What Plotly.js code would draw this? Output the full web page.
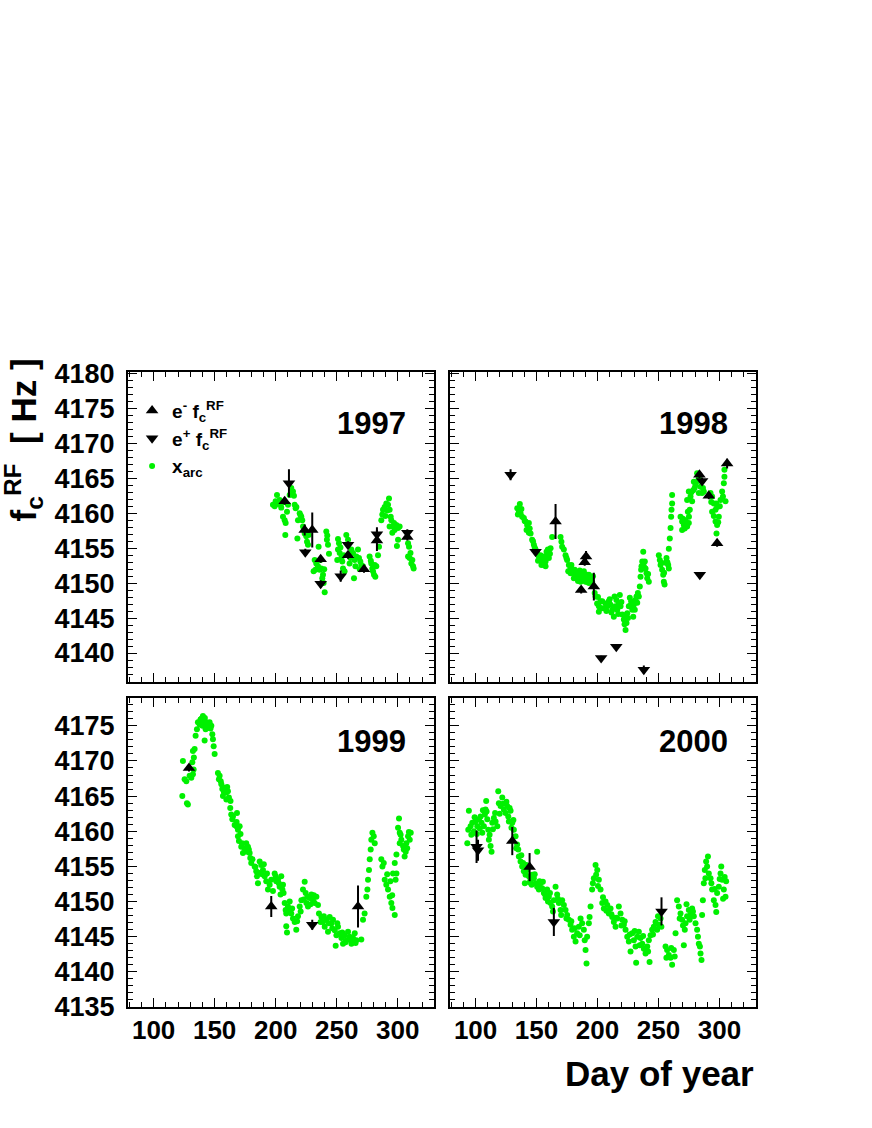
<!DOCTYPE html>
<html>
<head>
<meta charset="utf-8">
<script src="https://cdn.plot.ly/plotly-3.0.1.min.js"></script>
<style>
html,body{margin:0;padding:0;background:#fff;}
#chart{width:872px;height:1128px;}
</style>
</head>
<body>
<div id="chart"></div>
<script>
// ---------------- DATA ----------------
const years = ["1997", "1998", "1999", "2000"];
const xTicks = [100, 150, 200, 250, 300];
const yTicksTop = [4140, 4145, 4150, 4155, 4160, 4165, 4170, 4175, 4180];
const yTicksBottom = [4135, 4140, 4145, 4150, 4155, 4160, 4165, 4170, 4175];

// x_arc points [day, Hz]
const arc1997 = [
[197.8,4161.2],[199.2,4161.0],[200,4161.7],[201.1,4162.6],[203.3,4161.9],[204.6,4160.8],[206,4159.5],[207.4,4159.0],
[208.2,4158.6],[207.9,4156.9],[209.3,4160.2],[210.1,4161.2],[212.8,4163.6],[214.2,4163.1],[215.6,4161.2],[216.4,4160.7],
[217,4160.9],[217.8,4156.4],[218.3,4159.0],[219.7,4160.0],[221,4159.5],[221.8,4159.0],[222.4,4158.1],[223.8,4157.1],
[225.1,4156.7],[225.7,4155.9],[226.5,4155.5],[231.1,4151.7],[232,4153.3],[233.3,4152.8],[234.7,4152.4],[235.2,4155.2],
[236.1,4151.9],[237.4,4152.1],[238.2,4150.7],[238.8,4151.2],[239.3,4150.0],[240.2,4148.7],[241.5,4157.4],[242,4156.2],
[242.3,4156.8],[242.9,4155.5],[243.7,4154.2],[250.5,4153.3],[251.1,4156.3],[251.1,4154.8],[251.9,4155.7],[252.5,4154.3],
[253.8,4153.6],[254.6,4153.1],[255.2,4152.1],[256.5,4151.7],[257.9,4156.9],[259.3,4156.2],[260.6,4152.8],[262,4154.8],
[263.4,4154.3],[264.2,4150.7],[264.7,4153.3],[266.1,4153.8],[267.5,4154.8],[268.3,4153.6],[269.4,4153.1],[270.2,4152.6],
[271.6,4152.4],[277,4153.8],[278.4,4152.8],[279.2,4152.1],[279.8,4151.7],[280.6,4151.2],[281.7,4150.9],[282.5,4152.4],
[283.9,4154.0],[284.7,4155.2],[286.6,4159.0],[287.4,4159.8],[288,4160.5],[289.3,4160.9],[290.7,4161.4],[292.1,4161.2],
[292.9,4162.1],[293.4,4160.5],[293.4,4158.1],[294.3,4159.5],[294.8,4159.0],[296.2,4158.1],[297.5,4157.6],[298.9,4158.3],
[299.4,4155.3],[300.3,4157.9],[300.3,4156.2],[301.6,4158.1],[308.5,4155.7],[309.3,4155.2],[308.5,4153.8],[309.8,4153.6],
[311.2,4152.8],[312,4153.3],[312.6,4152.4],[313.1,4152.1],
[202,4161.3],[205.3,4161.5],[211.5,4162.6],[215,4162.5],[220.4,4159.7],[227,4156.9],[232.6,4151.9],[236.7,4153.3],
[239.8,4152.0],[253.1,4155.1],[255.8,4154.0],[261.3,4153.6],[265.4,4152.4],[268.9,4152.0],[278,4153.2],[281.2,4152.6],
[289.9,4159.6],[291.5,4160.4],[295.6,4157.2],[297,4158.6],[310.5,4154.3]
];
const arc1998 = [
[134.2,4160.7],[134.7,4159.8],[135.5,4160.2],[136.3,4161.3],[136.9,4160.0],[138.2,4159.5],[139.6,4159.3],[141,4158.8],
[141.8,4157.6],[142.3,4158.3],[143.7,4158.6],[143.7,4157.2],[145.1,4157.1],[146.4,4156.2],[147.8,4155.5],[149.2,4154.8],
[150.5,4154.3],[151.9,4153.8],[153.3,4154.0],[153.3,4153.3],[154.6,4153.3],[156,4152.6],[156,4153.8],[157.4,4153.1],
[157.4,4152.4],[158.2,4154.5],[158.7,4153.8],[159.3,4154.8],[160.1,4154.3],[160.1,4153.6],[161.5,4155.0],[162.8,4156.6],
[169.7,4156.6],[171,4155.2],[172.4,4154.8],[173.8,4154.0],[175.1,4153.3],[176.5,4152.6],[177.9,4152.1],[177.9,4151.4],
[179.2,4151.9],[180.6,4151.4],[180.6,4150.7],[182,4151.2],[183.3,4150.7],[183.3,4151.4],[184.7,4151.4],[186.1,4150.9],
[186.1,4150.2],[187.4,4150.5],[188.8,4151.7],[190.2,4150.9],[190.2,4150.2],[191.5,4150.2],[191.5,4151.2],[192.9,4151.2],
[192.9,4150.0],[194.3,4150.7],[195.6,4150.2],[198.4,4148.1],[199.7,4147.1],[201.1,4146.7],[201.1,4145.9],[202.5,4147.4],
[202.5,4146.4],[203.9,4147.4],[206.6,4147.1],[208,4146.7],[209.3,4147.4],[210.7,4146.9],[212.1,4146.2],[213.4,4145.2],
[214,4148.1],[214.8,4146.7],[216.2,4146.2],[217.5,4147.1],[218.3,4148.3],[218.9,4146.7],[220.3,4145.5],[221.6,4144.8],
[222.2,4144.1],[223,4143.3],[223.8,4144.3],[224.4,4145.7],[225.7,4146.7],[226.5,4147.9],[227.6,4147.4],[228.5,4146.2],
[229.3,4145.2],[229.8,4146.9],[231.2,4147.6],[232,4148.1],[233.1,4148.6],[233.9,4148.1],[234.7,4149.5],[235.3,4150.9],
[235.8,4151.9],[236.7,4153.1],[237.5,4154.5],[238,4152.4],[239.4,4152.1],[240.2,4151.4],[240.8,4150.7],[242.1,4150.2],
[250.3,4154.0],[251.1,4153.3],[251.7,4152.6],[253,4151.9],[253.9,4151.2],[254.4,4150.2],[255,4149.8],[255.8,4152.9],
[256.6,4153.6],[258,4152.6],[258.5,4152.1],[258.5,4154.9],[259.3,4156.4],[259.9,4157.9],[260.4,4159.5],[260.7,4160.5],
[261.2,4161.4],[261.2,4162.6],[268.1,4159.5],[269.4,4158.8],[269.4,4157.6],[270.8,4158.3],[272.2,4159.0],[273.5,4158.1],
[273.5,4161.9],[274.1,4160.2],[274.9,4158.6],[274.9,4163.1],[275.7,4160.5],[276.3,4162.4],[277.6,4161.7],[278.5,4163.3],
[279,4164.5],[280.4,4164.0],[281.7,4165.7],[283.1,4165.0],[283.1,4162.9],[284.5,4163.8],[285.8,4162.9],[287.2,4163.1],
[292.7,4162.9],[294,4162.4],[294,4160.2],[295.4,4161.4],[296.8,4160.5],[296.8,4158.8],[297.6,4157.1],[298.1,4160.9],
[298.1,4158.3],[299.5,4159.5],[300.9,4161.9],[302.2,4163.1],[303.6,4164.3],[304.1,4165.2],[304.1,4166.2],[305,4161.7],
[137.6,4160.6],[140.3,4158.9],[144.4,4157.8],[147.1,4156.0],[148.5,4155.1],[151.2,4153.2],[154,4152.6],[155.3,4153.6],
[161,4154.2],[170.4,4155.9],[174.5,4153.6],[176,4151.7],[178.6,4152.6],[181.3,4151.9],[184,4150.3],[185.4,4151.8],
[187.9,4151.3],[189.5,4150.5],[193.6,4150.4],[196.3,4151.0],[197.7,4148.6],[200.4,4148.0],[204.6,4146.4],[207.3,4146.0],
[210,4147.7],[211.4,4145.8],[215.5,4147.6],[217,4145.6],[219.6,4147.3],[222.8,4145.4],[225,4145.0],[227,4146.8],
[230.6,4146.2],[232.6,4147.2],[236.1,4152.4],[238.8,4153.1],[241.5,4151.3],[252.3,4152.9],[254.6,4151.5],[257.3,4153.0],
[270.1,4159.2],[271.5,4157.8],[275,4159.5],[277,4163.0],[279.7,4163.6],[282.4,4164.6],[286.5,4163.6],[293.3,4161.6],
[295.4,4159.6],[297.4,4161.4],[299,4158.7],[300.3,4161.0],[302.9,4162.4]
];
const arc1999 = [
[123.5,4165.0],[124,4170.0],[125.4,4167.4],[126.8,4167.1],[127.3,4164.0],[128.1,4163.8],[129.5,4167.9],[130.9,4167.6],
[131.7,4169.8],[132.2,4168.1],[132.2,4171.4],[132.8,4168.8],[133.6,4171.7],[134.4,4173.6],[135.5,4174.5],[136.3,4175.5],
[137.7,4175.2],[139.1,4176.0],[140.4,4176.4],[141,4175.7],[141.8,4175.0],[141.8,4172.9],[142.6,4174.5],[143.2,4175.5],
[144.5,4175.2],[145.9,4175.5],[147.3,4175.0],[148.1,4173.8],[148.6,4173.1],[149.2,4172.1],[150,4171.0],[152.7,4168.3],
[153.5,4167.4],[154.1,4167.9],[155.5,4166.7],[156.3,4166.0],[156.8,4165.0],[158.2,4166.2],[159.6,4165.5],[159.6,4164.5],
[160.9,4165.7],[161.7,4164.8],[162.8,4163.3],[163.6,4162.4],[164.5,4161.7],[166.4,4160.9],[167.8,4160.7],[168.3,4162.6],
[169.1,4160.2],[169.1,4159.3],[169.9,4158.6],[170.5,4160.7],[171.8,4157.8],[173.2,4156.9],[174.6,4157.6],[175.9,4158.3],
[177.3,4157.8],[178.7,4156.9],[179.2,4156.2],[180,4155.5],[182.8,4155.0],[184.1,4154.3],[184.7,4153.6],[185.5,4152.6],
[186.9,4155.7],[188.2,4155.2],[189.6,4154.5],[191,4153.6],[192.3,4152.9],[193.7,4151.7],[195.1,4152.4],[196.4,4153.1],
[199.2,4154.0],[200.5,4152.9],[201.9,4153.1],[203.3,4152.1],[204.6,4153.6],[205.5,4151.7],[206.5,4151.2],[207.4,4149.8],
[208.2,4148.8],[208.7,4148.3],[208.7,4146.5],[209.3,4145.6],[210.1,4149.3],[211.5,4150.0],[212.8,4148.3],[214.2,4147.6],
[215.6,4147.1],[216.9,4146.0],[218.3,4147.9],[219.7,4149.3],[221.1,4150.2],[222.4,4151.7],[223.8,4152.8],[224.6,4151.2],
[225.2,4149.8],[226.5,4149.3],[227.9,4150.5],[229.3,4151.0],[230.6,4150.2],[232,4149.8],[233.4,4150.7],[234.7,4149.5],
[235.5,4148.3],[237.5,4147.8],[238.8,4147.1],[240.2,4146.4],[241.6,4147.4],[242.9,4145.7],[244.3,4147.8],[245.7,4146.9],
[247,4147.4],[248.4,4145.9],[249.2,4143.7],[249.8,4145.2],[251.1,4146.4],[252.5,4145.5],[253.9,4144.8],[255.2,4144.0],
[256.6,4145.2],[258,4144.5],[259.3,4145.7],[260.7,4145.0],[262.1,4144.0],[263.4,4144.8],[264.8,4145.5],[266.1,4144.5],
[270.2,4144.6],[271.6,4147.4],[272.9,4148.3],[274.3,4150.7],[275.2,4151.7],[275.7,4153.1],[276.5,4154.5],[277.1,4156.0],
[277.9,4157.4],[278.4,4158.8],[279.3,4159.8],[280.4,4159.3],[281.2,4158.3],[286.6,4156.0],[287.5,4155.0],[288.6,4155.5],
[289.4,4153.1],[290.7,4152.4],[292.1,4151.7],[293.5,4150.7],[294,4152.9],[294.8,4149.8],[295.7,4149.1],[296.2,4154.0],
[297.6,4148.1],[297.6,4155.5],[299,4156.7],[299,4154.0],[300.3,4160.5],[301.1,4161.8],[301.7,4159.8],[301.7,4158.3],
[303,4158.8],[304.4,4157.9],[305.7,4156.4],[306.6,4157.1],[307.1,4158.3],[308.5,4159.3],[309.9,4158.8],[310.7,4159.8],
[133,4170.5],[138.4,4175.9],[140,4175.0],[142,4176.1],[144,4174.7],[146.6,4174.6],[155,4167.1],[157.6,4165.6],
[160.3,4166.3],[163,4164.3],[165,4162.1],[168,4161.3],[171.2,4159.6],[172.5,4158.3],[176.6,4157.1],[178,4157.4],
[181,4156.0],[183.4,4154.9],[186,4154.1],[188.9,4153.9],[190.3,4155.3],[192.9,4154.0],[197.8,4151.5],[200,4153.6],
[202.6,4152.6],[204,4151.0],[206,4152.4],[211,4148.7],[213.5,4149.0],[217.6,4147.2],[220.5,4148.6],[223,4150.3],
[226,4150.7],[228.6,4149.6],[231.3,4150.9],[236.8,4147.1],[239.5,4147.9],[243.6,4146.9],[246.4,4146.2],[250.5,4146.9],
[254.6,4145.6],[257.3,4144.2],[261.4,4144.6],[265.5,4144.1],[298.3,4153.1],[291.4,4153.9],[295.5,4150.9],[302.4,4159.5],
[305,4157.4],[307.8,4157.6],[309.2,4159.9]
];
const arc2000 = [
[93.2,4158.3],[94,4160.2],[94.5,4162.9],[95.9,4160.7],[97.3,4161.2],[98.6,4160.0],[100,4161.4],[101.4,4160.7],
[102.7,4161.7],[104.1,4162.1],[104.9,4161.2],[105.5,4159.8],[106.8,4160.7],[107.6,4162.4],[108.2,4163.1],[108.7,4164.3],
[109.6,4161.7],[110.4,4160.2],[110.9,4158.8],[112.3,4157.9],[113.1,4157.1],[113.7,4161.2],[115,4161.9],[116.4,4161.4],
[117.8,4160.7],[118.6,4165.7],[119.1,4164.0],[120.5,4163.6],[121.9,4164.8],[123.2,4163.1],[124.6,4162.6],[126,4163.6],
[126.8,4162.1],[127.3,4161.4],[128.7,4162.9],[130.1,4161.2],[131.4,4160.2],[132.8,4159.3],[134.1,4158.1],[135,4157.4],
[135.5,4156.4],[136.9,4155.7],[138.2,4155.0],[139.6,4154.3],[140.4,4152.6],[141,4153.8],[142.3,4154.5],[143.7,4153.6],
[145.1,4153.1],[146.4,4153.8],[147.8,4153.3],[149.2,4152.6],[150.5,4157.1],[150.5,4152.1],[151.9,4151.7],[153.3,4152.6],
[154.6,4151.9],[156,4151.2],[157.4,4150.5],[158.7,4151.7],[160.1,4150.7],[161.5,4149.8],[162.8,4149.3],[164.2,4150.2],
[165.6,4152.1],[166.9,4151.0],[168.3,4149.8],[169.7,4148.8],[171,4150.2],[172.4,4149.5],[173.8,4148.8],[175.1,4148.1],
[176.5,4147.4],[177.9,4146.7],[179.2,4146.0],[180.6,4145.0],[182,4144.3],[183.3,4145.5],[184.7,4146.4],[186.1,4147.6],
[187.4,4146.9],[188.8,4146.0],[190.2,4143.1],[191,4141.2],[191.5,4145.0],[192.9,4146.9],[194.3,4149.3],[195.6,4151.7],
[197,4153.3],[198.4,4155.2],[199.8,4154.5],[201.1,4153.1],[202.5,4151.7],[203.9,4149.8],[205.2,4149.0],[206.6,4150.0],
[208,4149.5],[209.3,4148.3],[210.7,4149.0],[212.1,4147.8],[213.4,4147.1],[214.8,4146.4],[216.2,4147.6],[217.5,4149.3],
[218.9,4148.3],[220.3,4147.4],[221.6,4146.7],[223,4146.0],[224.4,4145.0],[225.7,4144.3],[227.1,4142.9],[228.5,4145.5],
[229.8,4144.5],[231.2,4143.6],[231.7,4141.3],[232.6,4145.0],[233.9,4145.7],[235.3,4144.8],[236.7,4144.0],[238,4143.3],
[239.4,4142.6],[240.8,4143.6],[242.1,4144.5],[242.7,4141.4],[243.5,4145.2],[244.8,4146.0],[246.2,4146.4],[247.6,4147.1],
[248.9,4146.0],[250.3,4146.7],[251.7,4147.6],[255.8,4143.6],[257.1,4143.1],[258.5,4142.4],[259.9,4142.0],[261.2,4141.0],
[262.6,4143.1],[264,4145.5],[265.3,4150.2],[266.7,4149.3],[268.1,4148.3],[269.4,4147.4],[270.8,4143.8],[271.6,4146.0],
[272.2,4146.9],[273.5,4147.9],[274.9,4148.8],[276.3,4148.1],[277.6,4149.0],[279,4147.9],[280.4,4146.9],[281.7,4146.0],
[283.1,4144.0],[284.5,4142.6],[285.3,4141.7],[285.8,4148.1],[286.4,4150.2],[287.2,4152.6],[288,4154.5],[289.1,4155.7],
[289.9,4155.0],[291.3,4154.0],[292.7,4153.3],[294,4151.7],[295.4,4150.2],[296.8,4149.5],[298.1,4151.2],[299.5,4152.1],
[300.9,4154.0],[302.2,4153.1],[303.6,4151.7],[305,4150.7],[305.5,4152.9],
[96.5,4159.5],[99.2,4162.0],[101,4159.6],[103.5,4160.4],[106,4163.0],[109,4162.8],[111.5,4159.5],[114.2,4160.3],
[116,4162.6],[119.8,4162.5],[122.5,4163.9],[125.3,4164.2],[127.9,4163.3],[129.4,4160.5],[131,4161.6],[133.4,4157.6],
[137.5,4156.6],[139,4155.5],[141.6,4155.2],[144.4,4152.7],[146,4152.4],[148.5,4153.9],[152.5,4152.9],[155.2,4152.8],
[157,4151.0],[159.4,4150.0],[161,4151.2],[163.5,4148.6],[167.5,4150.4],[170.2,4148.1],[174.5,4147.6],[178.5,4147.2],
[181.3,4146.2],[185.4,4145.2],[189.5,4144.5],[193.5,4147.8],[196.2,4152.6],[198.9,4153.8],[200.4,4152.2],[204.5,4150.6],
[207.3,4148.7],[211.4,4148.2],[215.5,4147.7],[219.6,4146.6],[222.3,4147.2],[226.4,4145.3],[230.5,4145.8],[234.6,4143.8],
[237.4,4145.1],[241.5,4142.9],[245.5,4145.3],[249.6,4147.9],[252.4,4146.4],[256.5,4142.0],[260.5,4143.4],[263.3,4142.2],
[267.4,4147.6],[270.1,4146.6],[273,4149.6],[275.6,4147.4],[278.3,4148.6],[282.4,4145.0],[284,4143.6],[288.5,4153.3],
[290.6,4156.4],[293.4,4152.6],[296.1,4151.8],[297.4,4148.5],[300.2,4153.2],[301.5,4155.0],[303,4150.4],[304.3,4153.5]
];

// e- f_c^RF [day, Hz, error]
const eMinus1997 = [[207.4,4161.7,0.5],[223.8,4157.6,0.8],[230,4157.6,2.5],[236.9,4153.4,0.5],[259.3,4154.0,0.5],[272.4,4152.0,0.5],[283,4156.1,1.5],[307.9,4156.6,0.5]];
const eMinus1998 = [[165.6,4158.8,2.5],[186.6,4149.0,0.5],[189.5,4153.0,0.5],[190.6,4153.8,0.8],[197,4149.5,2.0],[283.6,4165.5,0.5],[291.3,4162.5,0.5],[298.1,4155.7,0.5],[306.3,4167.1,0.7]];
const eMinus1999 = [[129,4169.0,0.5],[196.4,4149.3,1.5],[267.5,4149.3,3.0]];
const eMinus2000 = [[130.1,4158.6,2.0],[144.3,4154.9,2.0]];

// e+ f_c^RF [day, Hz, error]
const ePlus1997 = [[210.9,4164.3,2.0],[224.3,4154.4,0.5],[236.9,4149.9,0.5],[253.3,4151.0,0.8],[259.3,4155.5,0.5],[283,4157.0,1.0],[307.9,4157.2,0.5]];
const ePlus1998 = [[128.7,4165.5,0.8],[149.2,4154.5,0.3],[203,4139.3,0.3],[215.4,4140.9,0.3],[238,4137.6,0.6],[283.9,4151.2,0.3],[285.8,4164.6,0.5]];
const ePlus1999 = [[230,4146.7,0.7]];
const ePlus2000 = [[100.8,4157.8,2.3],[102,4157.3,1.5],[164.2,4147.1,2.0],[252.5,4148.6,2.0]];

const arcSets = [arc1997, arc1998, arc1999, arc2000];
const eMinusSets = [eMinus1997, eMinus1998, eMinus1999, eMinus2000];
const ePlusSets = [ePlus1997, ePlus1998, ePlus1999, ePlus2000];

// ---------------- STYLE ----------------
const FONT = "Liberation Sans, Arial, Helvetica, sans-serif";
const GREEN = "#00f000";
const xRange = [79, 330];
const yRangeTop = [4135.9, 4180.2];
const yRangeBottom = [4135, 4179];

const traces = [];
arcSets.forEach((set, i) => {
  const s = i === 0 ? "" : String(i + 1);
  traces.push({
    type: "scatter", mode: "markers",
    x: set.map(p => p[0]), y: set.map(p => p[1]),
    xaxis: "x" + s, yaxis: "y" + s,
    marker: {color: GREEN, size: 6, line: {width: 0}},
    name: "x<sub>arc</sub>", legendrank: 3, showlegend: i === 0, hoverinfo: "skip"
  });
});
eMinusSets.forEach((set, i) => {
  const s = i === 0 ? "" : String(i + 1);
  traces.push({
    type: "scatter", mode: "markers",
    x: set.map(p => p[0]), y: set.map(p => p[1]),
    error_y: {type: "data", array: set.map(p => p[2]), visible: true, width: 0, thickness: 2, color: "#000"},
    xaxis: "x" + s, yaxis: "y" + s,
    marker: {color: "#000", size: 11, symbol: "triangle-up", line: {width: 0}},
    name: "e<sup>-</sup> f<sub>c</sub><sup>RF</sup>", legendrank: 1, showlegend: i === 0, hoverinfo: "skip"
  });
});
ePlusSets.forEach((set, i) => {
  const s = i === 0 ? "" : String(i + 1);
  traces.push({
    type: "scatter", mode: "markers",
    x: set.map(p => p[0]), y: set.map(p => p[1]),
    error_y: {type: "data", array: set.map(p => p[2]), visible: true, width: 0, thickness: 2, color: "#000"},
    xaxis: "x" + s, yaxis: "y" + s,
    marker: {color: "#000", size: 11, symbol: "triangle-down", line: {width: 0}},
    name: "e<sup>+</sup> f<sub>c</sub><sup>RF</sup>", legendrank: 2, showlegend: i === 0, hoverinfo: "skip"
  });
});

function xAxis(domain, anchor, labels) {
  return {
    domain: domain, anchor: anchor, range: xRange,
    tickvals: xTicks, ticktext: xTicks.map(String), showticklabels: labels,
    ticks: "inside", ticklen: 9, tickwidth: 1, tickcolor: "#000",
    minor: {dtick: 10, tick0: 0, ticks: "inside", ticklen: 5, tickwidth: 1, tickcolor: "#000"},
    mirror: "allticks", showline: true, linecolor: "#000", linewidth: 2,
    showgrid: false, zeroline: false,
    tickfont: {family: FONT, size: 26, color: "#000", weight: "bold"},
    ticklabelstandoff: -1
  };
}
function yAxis(domain, anchor, range, ticks, labels) {
  return {
    domain: domain, anchor: anchor, range: range,
    tickvals: ticks, ticktext: ticks.map(String), showticklabels: labels,
    ticks: "inside", ticklen: 9, tickwidth: 1, tickcolor: "#000",
    minor: {dtick: 1, tick0: 0, ticks: "inside", ticklen: 5, tickwidth: 1, tickcolor: "#000"},
    mirror: "allticks", showline: true, linecolor: "#000", linewidth: 2,
    showgrid: false, zeroline: false,
    tickfont: {family: FONT, size: 27, color: "#000", weight: "bold"},
    ticklabelstandoff: 6
  };
}

const xL = [0, 0.4877], xR = [0.5127, 1];
const yT = [0.5123, 1], yB = [0, 0.4871];

const yearAnn = years.map((yr, i) => {
  const s = i === 0 ? "" : String(i + 1);
  return {
    text: yr, xref: "x" + s + " domain", yref: "y" + s + " domain",
    x: 0.915, y: i < 2 ? 0.834 : 0.858, xanchor: "right", yanchor: "middle",
    showarrow: false, font: {family: FONT, size: 31, color: "#000", weight: "bold"}
  };
});

const layout = {
  width: 872, height: 1128,
  margin: {l: 128, r: 116, t: 372, b: 121},
  paper_bgcolor: "#fff", plot_bgcolor: "#fff",
  showlegend: true,
  legend: {
    x: 0.0065, y: 0.969, xanchor: "left", yanchor: "top",
    bgcolor: "rgba(0,0,0,0)", borderwidth: 0,
    font: {family: FONT, size: 19, color: "#000", weight: "bold"},
    traceorder: "normal", itemwidth: 30, tracegroupgap: 0
  },
  xaxis: xAxis(xL, "y", false),
  yaxis: yAxis(yT, "x", yRangeTop, yTicksTop, true),
  xaxis2: xAxis(xR, "y2", false),
  yaxis2: yAxis(yT, "x2", yRangeTop, yTicksTop, false),
  xaxis3: xAxis(xL, "y3", true),
  yaxis3: yAxis(yB, "x3", yRangeBottom, yTicksBottom, true),
  xaxis4: xAxis(xR, "y4", true),
  yaxis4: yAxis(yB, "x4", yRangeBottom, yTicksBottom, false),
  annotations: yearAnn.concat([
    {text: "Day of year", xref: "paper", yref: "paper", x: 1.0, y: -0.104,
     xanchor: "right", yanchor: "middle", showarrow: false,
     font: {family: FONT, size: 35, color: "#000", weight: "bold"}},
    {text: "f<sub>c</sub><sup>RF</sup>  [ Hz ]", xref: "paper", yref: "paper", x: -0.166, y: 1.025,
     xanchor: "center", yanchor: "top", textangle: -90, showarrow: false,
     font: {family: FONT, size: 35, color: "#000", weight: "bold"}}
  ])
};

Plotly.newPlot("chart", traces, layout, {staticPlot: true, displayModeBar: false});
</script>
</body>
</html>
